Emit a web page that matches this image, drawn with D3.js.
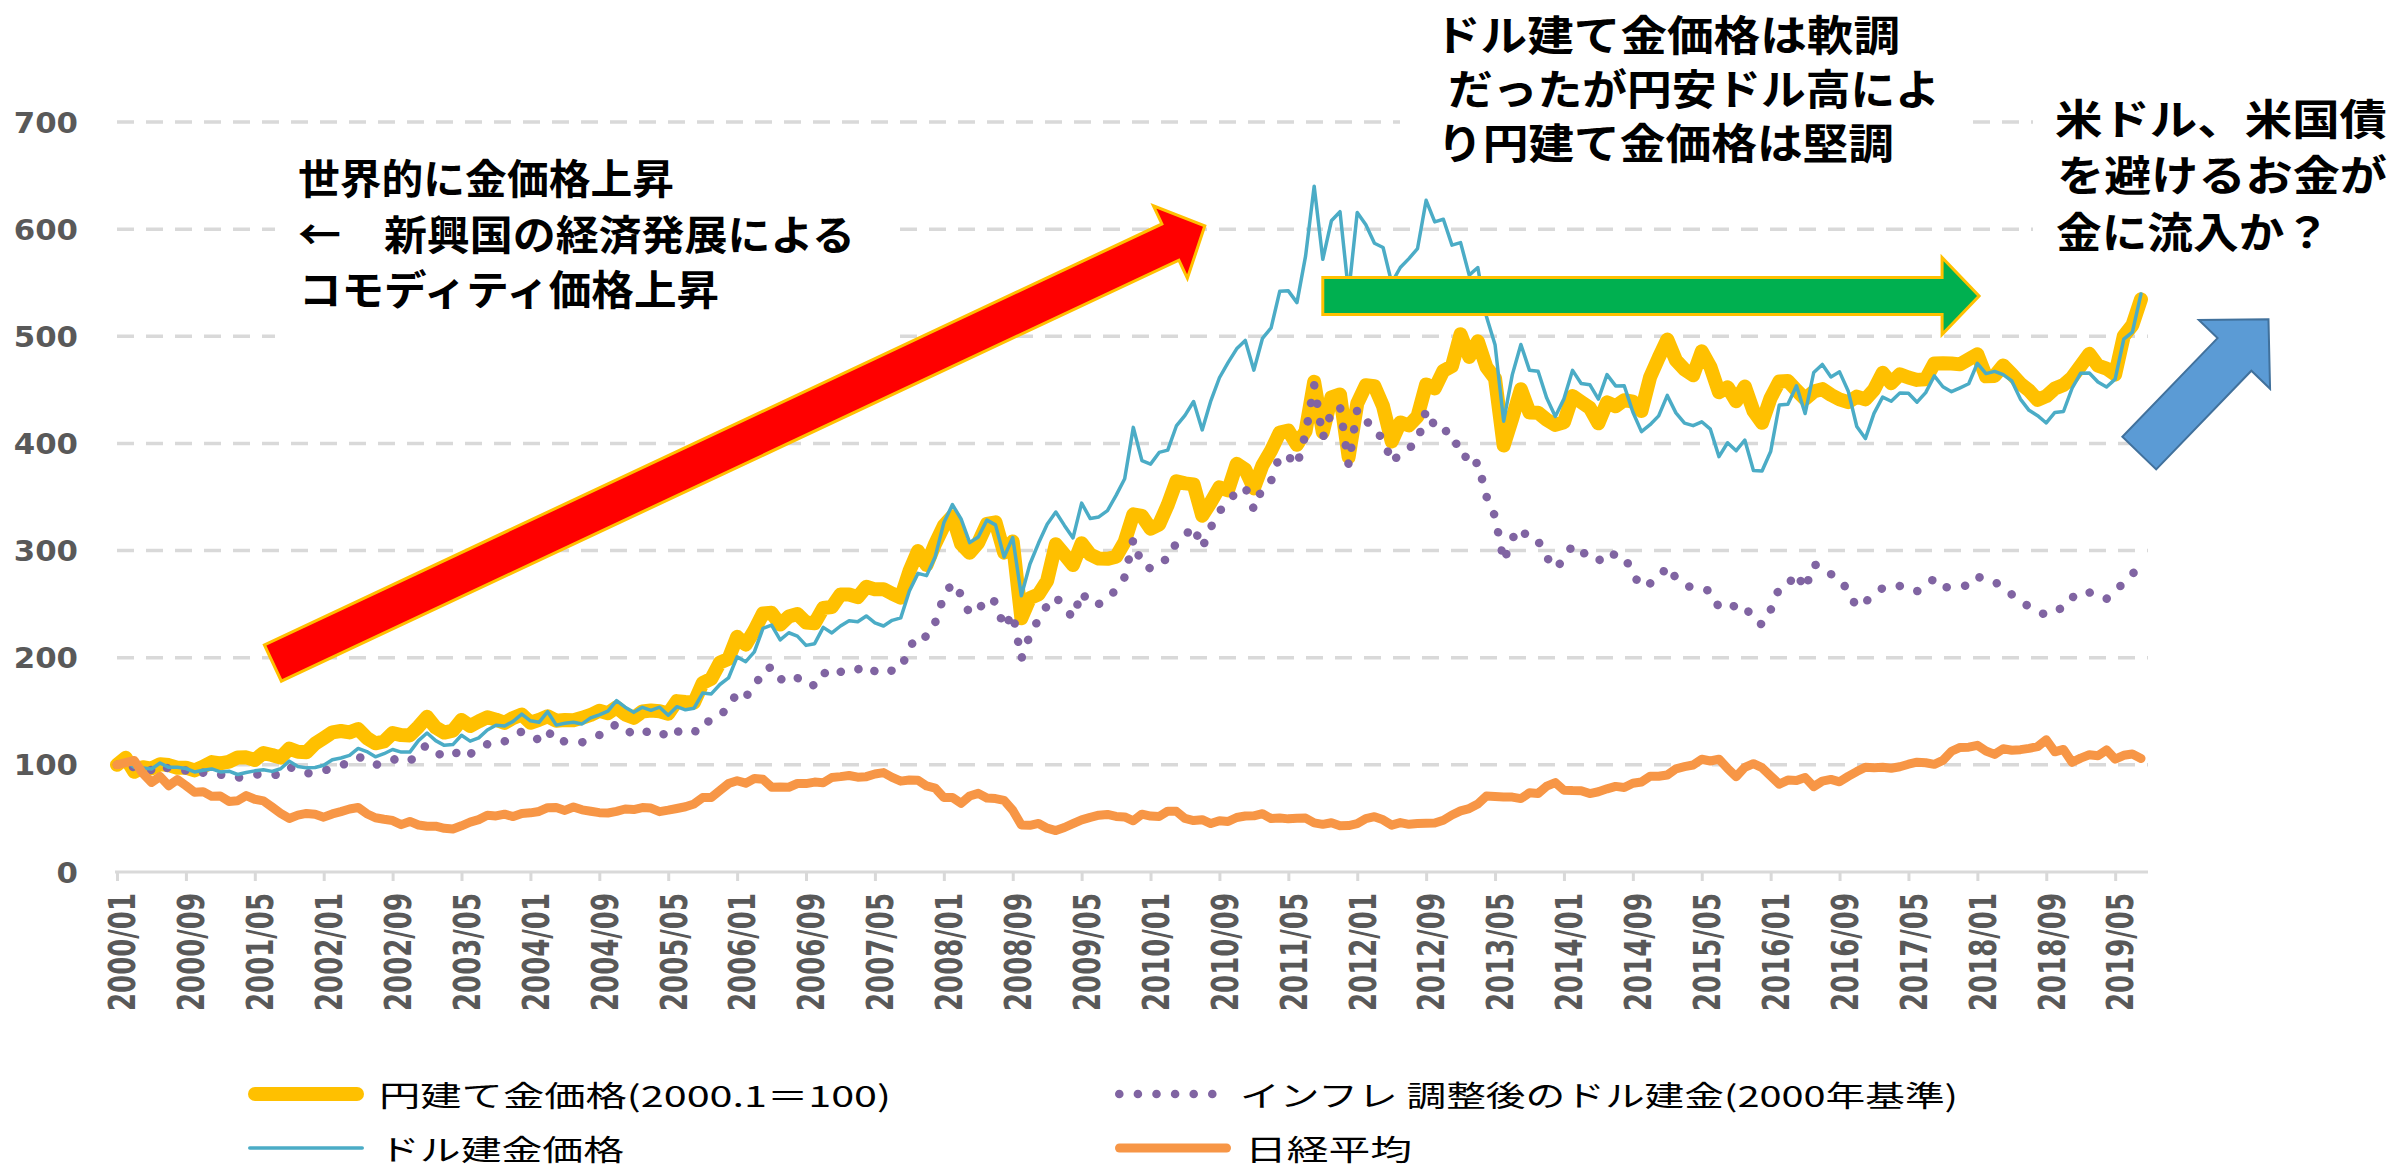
<!DOCTYPE html>
<html lang="ja">
<head>
<meta charset="utf-8">
<title>円建て金価格・ドル建金価格・日経平均</title>
<script src="https://cdn.jsdelivr.net/npm/d3@7"></script>
<style>
  body { margin: 0; background: #fff; }
  svg { display: block; }
  .tick-label { font-family: "DejaVu Sans", Verdana, sans-serif; font-weight: bold; fill: #595959; }
  .jp { font-family: "Noto Sans CJK JP", "Noto Sans", sans-serif; fill: #000; }
</style>
</head>
<body>
<div id="chart"></div>
<script>
// Monthly values, 2000/01 = 100 (2000/01 - 2019/08)

// 円建て金価格(2000.1＝100)
var yenGold = [
  100, 106.6, 93.5, 97.8, 96.5, 100.6, 99.8, 97.3, 97.4, 94.8, 98.3, 102.6,
  101.3, 102.9, 106.9, 107.0, 104.6, 111.0, 109.2, 106.7, 115.1, 112.2, 111.8, 119.8,
  125.0, 130.3, 131.6, 130.3, 133.4, 125.1, 120.1, 121.8, 129.6, 127.8, 127.5, 135.6,
  144.8, 134.8, 130.1, 131.9, 141.9, 136.3, 140.6, 144.5, 142.2, 139.2, 143.8, 147.0,
  139.3, 142.0, 145.3, 141.1, 141.8, 141.7, 143.9, 146.6, 150.5, 148.2, 153.7, 147.1,
  143.9, 149.8, 150.8, 150.1, 147.7, 159.5, 158.7, 158.2, 176.3, 180.3, 195.4, 199.0,
  219.5, 212.2, 225.5, 241.3, 241.9, 230.9, 238.5, 240.8, 232.8, 232.2, 246.4, 247.4,
  258.9, 259.0, 256.5, 266.2, 263.8, 264.0, 259.8, 256.0, 280.6, 299.5, 286.6, 306.4,
  323.2, 332.0, 306.2, 297.9, 307.4, 325.0, 326.4, 298.1, 308.4, 236.8, 255.6, 259.2,
  271.9, 305.9, 296.4, 286.5, 306.8, 296.4, 292.5, 292.3, 294.2, 308.3, 333.8, 332.4,
  320.4, 324.4, 342.7, 364.7, 362.7, 361.8, 332.6, 345.1, 359.0, 356.2, 380.9, 375.5,
  358.0, 379.7, 393.4, 410.2, 412.0, 398.7, 411.4, 457.5, 410.3, 443.0, 445.7, 387.3,
  437.2, 454.3, 453.4, 434.6, 401.8, 419.6, 416.7, 425.2, 455.1, 451.3, 467.8, 472.2,
  502.0, 480.8, 495.3, 471.2, 460.6, 398.0, 423.4, 450.6, 428.9, 428.6, 422.1, 417.3,
  419.8, 444.2, 438.6, 433.2, 418.8, 438.3, 434.7, 440.4, 439.0, 430.2, 461.8, 480.0,
  497.0, 477.6, 469.0, 463.6, 486.0, 471.5, 447.7, 452.5, 439.4, 453.2, 430.3, 419.2,
  442.5, 457.8, 458.2, 449.6, 441.5, 448.4, 450.7, 445.3, 441.1, 438.5, 443.7, 441.1,
  450.1, 465.9, 456.2, 464.5, 461.5, 459.3, 459.9, 474.7, 474.9, 474.6, 473.8, 478.6,
  483.2, 462.6, 463.0, 472.8, 464.7, 455.8, 449.4, 440.6, 444.1, 451.3, 454.6, 461.6,
  472.5, 483.6, 472.7, 469.9, 464.3, 500.2, 510.4, 534.5
];

// インフレ調整後のドル建金(2000年基準)
var inflAdjGold = [
  100, 103.4, 97.2, 96.4, 95.2, 100.5, 96.3, 96.1, 94.7, 91.4, 92.7, 93.6,
  90.7, 91.1, 87.9, 89.5, 90.8, 91.6, 89.8, 92.0, 98.5, 93.4, 92.1, 92.2,
  93.9, 98.5, 99.8, 101.8, 107.6, 104.6, 99.8, 102.3, 105.6, 103.2, 102.9, 112.5,
  118.7, 111.9, 107.6, 108.0, 115.6, 110.4, 112.9, 119.3, 122.9, 122.0, 125.5, 131.2,
  125.4, 123.8, 132.3, 120.9, 122.1, 122.6, 121.0, 125.6, 127.8, 130.5, 138.7, 133.0,
  128.5, 132.2, 129.5, 131.7, 125.0, 131.5, 128.7, 129.6, 141.2, 140.2, 147.3, 152.0,
  168.2, 164.0, 171.2, 189.0, 191.1, 179.2, 184.3, 181.2, 173.7, 174.5, 186.5, 181.8,
  186.7, 190.2, 189.0, 192.9, 187.3, 184.4, 188.2, 189.6, 209.1, 221.6, 219.4, 232.9,
  257.3, 270.0, 258.8, 240.9, 244.4, 256.1, 252.0, 228.1, 241.6, 199.1, 221.4, 235.9,
  248.8, 256.9, 246.7, 237.2, 261.3, 249.7, 250.2, 254.1, 264.1, 275.2, 310.3, 286.3,
  283.3, 290.7, 291.5, 307.5, 314.0, 322.7, 302.5, 321.7, 336.5, 346.0, 354.5, 359.3,
  338.4, 359.0, 365.1, 388.7, 388.0, 379.2, 409.2, 454.5, 405.0, 429.5, 434.4, 380.0,
  431.8, 422.6, 409.5, 405.8, 381.9, 390.9, 395.6, 401.1, 431.1, 416.2, 416.9, 399.4,
  400.0, 378.4, 382.3, 350.5, 331.9, 290.0, 311.3, 321.0, 310.0, 309.0, 293.8, 283.0,
  292.0, 305.0, 298.0, 296.5, 290.0, 299.0, 295.6, 295.0, 278.3, 265.8, 269.3, 273.9,
  285.5, 274.4, 267.6, 265.4, 265.0, 262.0, 247.0, 250.0, 247.4, 249.0, 234.7, 231.0,
  244.5, 265.0, 268.0, 279.0, 264.0, 287.0, 285.0, 278.0, 274.0, 262.0, 247.0, 252.0,
  259.0, 265.0, 264.5, 267.0, 266.0, 262.1, 266.7, 274.0, 266.0, 265.3, 266.8, 267.5,
  276.0, 272.0, 271.0, 265.0, 259.0, 252.0, 248.0, 243.0, 240.0, 245.0, 246.0, 256.0,
  262.0, 261.0, 256.0, 255.0, 262.0, 270.0, 278.0, 287.0
];

// ドル建金価格
var usdGold = [
  100, 103.7, 97.7, 97.1, 96.1, 101.7, 97.7, 97.8, 96.6, 93.4, 95.0, 96.2,
  93.4, 94.1, 91.0, 92.9, 94.4, 95.5, 93.9, 96.4, 103.5, 98.4, 97.2, 97.6,
  99.6, 104.8, 106.4, 108.8, 115.3, 112.4, 107.5, 110.4, 114.3, 111.9, 111.9, 122.6,
  129.7, 122.6, 118.2, 118.9, 127.6, 122.1, 125.2, 132.6, 137.0, 136.3, 140.6, 147.3,
  141.1, 139.7, 149.6, 137.1, 138.8, 139.7, 138.2, 143.8, 146.7, 150.2, 160.0, 153.8,
  149.0, 153.7, 150.9, 153.8, 146.3, 154.3, 151.4, 152.9, 167.0, 166.2, 175.0, 181.1,
  200.8, 196.3, 205.4, 227.3, 230.5, 216.6, 223.3, 220.1, 211.5, 213.1, 228.3, 223.1,
  229.6, 234.5, 233.6, 239.0, 232.6, 229.6, 234.9, 237.2, 262.3, 278.7, 276.6, 294.3,
  325.9, 342.9, 329.5, 307.4, 312.7, 328.4, 324.0, 294.0, 312.2, 257.9, 287.5, 307.0,
  324.6, 336.0, 323.5, 311.8, 344.3, 329.9, 331.4, 337.3, 351.5, 367.1, 415.0, 383.9,
  380.7, 391.6, 393.7, 416.3, 426.2, 439.1, 412.6, 439.8, 461.3, 475.4, 488.3, 496.1,
  468.4, 498.1, 507.9, 542.0, 542.4, 531.4, 574.8, 640.1, 571.8, 607.8, 616.3, 540.4,
  615.6, 604.0, 586.8, 582.9, 549.9, 564.2, 572.5, 581.9, 626.9, 606.8, 609.2, 585.1,
  587.4, 557.1, 564.2, 518.5, 492.2, 420.8, 464.0, 492.3, 468.2, 467.3, 442.3, 425.2,
  441.6, 468.2, 456.0, 454.8, 441.4, 464.2, 453.7, 453.9, 429.4, 411.0, 417.5, 425.7,
  444.8, 428.5, 419.0, 416.6, 420.2, 413.3, 387.7, 400.6, 393.2, 403.2, 374.8, 374.2,
  392.4, 435.9, 436.6, 453.8, 427.9, 466.2, 473.7, 462.1, 466.8, 449.0, 415.8, 404.5,
  428.1, 443.2, 439.4, 447.0, 446.9, 438.5, 447.4, 463.0, 452.9, 448.3, 451.9, 455.7,
  474.8, 465.2, 467.3, 464.2, 458.3, 441.4, 430.9, 425.9, 419.1, 428.9, 429.8, 451.5,
  465.6, 465.8, 457.3, 452.6, 460.0, 497.4, 503.9, 539.5
];

// 日経平均
var nikkei = [
  100, 102.1, 104.1, 92.0, 83.6, 89.1, 80.5, 86.3, 80.6, 74.4, 75.0, 70.6,
  70.9, 65.9, 66.5, 71.3, 67.9, 66.4, 60.7, 54.8, 50.0, 53.1, 54.7, 54.0,
  51.2, 54.2, 56.4, 58.8, 60.2, 54.4, 50.6, 49.2, 48.0, 44.2, 47.2, 43.9,
  42.7, 42.8, 40.8, 40.1, 43.1, 46.5, 48.9, 52.9, 52.3, 54.0, 51.7, 54.6,
  55.2, 56.5, 60.0, 60.2, 57.5, 60.7, 58.0, 56.7, 55.4, 55.1, 56.6, 58.8,
  58.3, 60.1, 59.7, 56.3, 57.7, 59.3, 60.9, 63.5, 69.5, 69.6, 76.1, 82.5,
  85.2, 82.9, 87.3, 86.5, 79.2, 79.4, 79.1, 82.6, 82.5, 83.9, 83.3, 88.2,
  89.0, 90.1, 88.5, 89.0, 91.5, 92.8, 88.3, 84.8, 85.9, 85.7, 80.3, 78.3,
  69.6, 69.6, 64.1, 70.9, 73.4, 69.0, 68.5, 66.9, 57.6, 43.9, 43.6, 45.3,
  40.9, 38.7, 41.5, 45.2, 48.7, 51.0, 53.0, 53.7, 51.9, 51.4, 47.8, 54.0,
  52.2, 51.8, 56.8, 56.6, 50.0, 48.0, 48.8, 45.2, 47.9, 47.1, 50.9, 52.3,
  52.4, 54.4, 49.9, 50.4, 49.6, 50.2, 50.3, 45.8, 44.5, 46.0, 43.2, 43.3,
  45.1, 49.8, 51.6, 48.7, 43.7, 46.1, 44.5, 45.2, 45.4, 45.7, 48.3, 53.2,
  57.0, 59.2, 63.4, 70.9, 70.5, 70.0, 69.9, 68.5, 74.0, 73.3, 80.2, 83.4,
  76.3, 76.0, 75.9, 73.2, 74.9, 77.6, 79.9, 78.9, 82.8, 84.0, 89.4, 89.3,
  90.5, 96.2, 98.3, 99.9, 105.2, 103.6, 105.3, 96.7, 89.0, 97.7, 101.1, 97.4,
  89.7, 82.0, 85.8, 85.3, 88.2, 79.7, 84.8, 86.4, 84.2, 89.2, 93.7, 97.8,
  97.4, 97.8, 96.8, 98.2, 100.6, 102.5, 102.0, 100.5, 104.2, 112.7, 116.3, 116.5,
  118.2, 112.9, 109.8, 115.0, 113.6, 114.2, 115.4, 117.0, 123.4, 112.2, 114.4, 102.4,
  106.3, 109.4, 108.5, 113.9, 105.4, 108.9, 110.1, 106.0
];

var yTicks = [0, 100, 200, 300, 400, 500, 600, 700];

var xTickLabels = [
  "2000/01", "2000/09", "2001/05", "2002/01", "2002/09", "2003/05", "2004/01", "2004/09",
  "2005/05", "2006/01", "2006/09", "2007/05", "2008/01", "2008/09", "2009/05", "2010/01",
  "2010/09", "2011/05", "2012/01", "2012/09", "2013/05", "2014/01", "2014/09", "2015/05",
  "2016/01", "2016/09", "2017/05", "2018/01", "2018/09", "2019/05"
];

var seriesNames = [
  "円建て金価格(2000.1＝100)",
  "インフレ 調整後のドル建金(2000年基準)",
  "ドル建金価格",
  "日経平均"
];

// category labels, one per month
var months = [];
for (var i = 0; i < yenGold.length; i++) {
  var yr = 2000 + Math.floor(i / 12), mo = i % 12 + 1;
  months.push(yr + "/" + (mo < 10 ? "0" : "") + mo);
}

var W = 2404, H = 1170;
var plot = {left: 117, right: 2141, top: 122, bottom: 872};

var svg = d3.select("#chart").append("svg")
  .attr("width", W)
  .attr("height", H)
  .attr("viewBox", "0 0 " + W + " " + H);

var x = d3.scaleLinear().domain([0, months.length - 1]).range([plot.left, plot.right]);
var y = d3.scaleLinear().domain([0, 700]).range([plot.bottom, plot.top]);

// dashed horizontal gridlines
svg.append("g")
  .selectAll("line")
  .data(yTicks.filter(function(d) { return d > 0; }))
  .enter().append("line")
    .attr("x1", plot.left)
    .attr("x2", plot.right + 7)
    .attr("y1", function(d) { return y(d); })
    .attr("y2", function(d) { return y(d); })
    .attr("stroke", "#d9d9d9")
    .attr("stroke-width", 3.5)
    .attr("stroke-dasharray", "17 12");

// white boxes behind the annotation texts (they hide gridlines)
var boxes = [
  {x: 275, y: 135, w: 620, h: 210},
  {x: 1400, y: 0, w: 568, h: 188},
  {x: 2033, y: 62, w: 371, h: 236}
];
svg.append("g")
  .selectAll("rect")
  .data(boxes)
  .enter().append("rect")
    .attr("x", function(d) { return d.x; })
    .attr("y", function(d) { return d.y; })
    .attr("width", function(d) { return d.w; })
    .attr("height", function(d) { return d.h; })
    .attr("fill", "#fff");

// y axis labels
var yAxis = svg.append("g")
  .attr("transform", "translate(78,0)")
  .call(d3.axisLeft(y).tickValues(yTicks).tickSize(0).tickPadding(0));
yAxis.select(".domain").remove();
yAxis.selectAll("text")
  .attr("class", "tick-label")
  .attr("x", 0)
  .attr("dy", "0.36em")
  .attr("text-anchor", "end")
  .attr("font-size", 28)
  .attr("transform", "scale(1.1,1)");

// x axis
var tickIdx = xTickLabels.map(function(l) { return months.indexOf(l); });
var xAxis = svg.append("g")
  .attr("transform", "translate(0," + plot.bottom + ")")
  .call(d3.axisBottom(x)
    .tickValues(tickIdx)
    .tickSize(9)
    .tickSizeOuter(0)
    .tickFormat(function(i) { return months[i]; }));
xAxis.select(".domain").remove();
xAxis.append("line")
  .attr("x1", plot.left - 2)
  .attr("x2", plot.right + 7)
  .attr("stroke", "#d9d9d9")
  .attr("stroke-width", 3);
xAxis.selectAll(".tick line")
  .attr("stroke", "#d9d9d9")
  .attr("stroke-width", 3);
xAxis.selectAll(".tick text")
  .attr("class", "tick-label")
  .attr("x", 0)
  .attr("y", 0)
  .attr("dy", null)
  .attr("font-size", 26)
  .attr("text-anchor", "end")
  .attr("dominant-baseline", "central")
  .attr("transform", "translate(5,21) scale(1.45,1) rotate(-90)");

// series lines
var line = d3.line()
  .x(function(d, i) { return x(i); })
  .y(function(d) { return y(d); });

var series = [
  {values: yenGold, color: "#FFC000", width: 14, dash: null},
  {values: inflAdjGold, color: "#8064A2", width: 8.5, dash: "0.1 18.5"},
  {values: usdGold, color: "#4BACC6", width: 3.5, dash: null},
  {values: nikkei, color: "#F79646", width: 9, dash: null}
];

svg.append("g")
  .selectAll("path")
  .data(series)
  .enter().append("path")
    .attr("d", function(d) { return line(d.values); })
    .attr("fill", "none")
    .attr("stroke", function(d) { return d.color; })
    .attr("stroke-width", function(d) { return d.width; })
    .attr("stroke-dasharray", function(d) { return d.dash; })
    .attr("stroke-linejoin", "round")
    .attr("stroke-linecap", "round");

// block arrows, anchored in data space (month index, value)
function arrowPoints(x0, y0, x1, y1, shaftW, headW, headL) {
  var dx = x1 - x0, dy = y1 - y0, len = Math.sqrt(dx * dx + dy * dy);
  var ux = dx / len, uy = dy / len, nx = -uy, ny = ux;
  var bx = x1 - ux * headL, by = y1 - uy * headL;
  var p = [
    [x0 + nx * shaftW / 2, y0 + ny * shaftW / 2],
    [bx + nx * shaftW / 2, by + ny * shaftW / 2],
    [bx + nx * headW / 2, by + ny * headW / 2],
    [x1, y1],
    [bx - nx * headW / 2, by - ny * headW / 2],
    [bx - nx * shaftW / 2, by - ny * shaftW / 2],
    [x0 - nx * shaftW / 2, y0 - ny * shaftW / 2]
  ];
  return p.map(function(q) { return q.join(","); }).join(" ");
}

var arrows = [
  {from: [18.1, 195], to: [126.3, 603], shaft: 40, head: 80, headLen: 38, fill: "#FF0000", stroke: "#FFC000", sw: 3},
  {from: [140.0, 537.6], to: [216.2, 537.6], shaft: 37, head: 77, headLen: 37, fill: "#00B050", stroke: "#FFC000", sw: 3},
  {from: [234.8, 391], to: [249.8, 516], shaft: 47, head: 99, headLen: 49, fill: "#5B9BD5", stroke: "#41719C", sw: 2}
];

svg.append("g")
  .selectAll("polygon")
  .data(arrows)
  .enter().append("polygon")
    .attr("points", function(d) {
      return arrowPoints(x(d.from[0]), y(d.from[1]), x(d.to[0]), y(d.to[1]), d.shaft, d.head, d.headLen);
    })
    .attr("fill", function(d) { return d.fill; })
    .attr("stroke", function(d) { return d.stroke; })
    .attr("stroke-width", function(d) { return d.sw; })
    .attr("stroke-linejoin", "miter");

// annotation texts
var notes = [
  {x: 298, y: 176, w: 376, size: 41, text: "世界的に金価格上昇"},
  {x: 298, y: 232, w: 557, size: 41, text: "←　新興国の経済発展による"},
  {x: 299, y: 287, w: 420, size: 41, text: "コモディティ価格上昇"},
  {x: 1434, y: 32, w: 466, size: 42, text: "ドル建て金価格は軟調"},
  {x: 1448, y: 86, w: 492, size: 42, text: "だったが円安ドル高によ"},
  {x: 1437, y: 140, w: 457, size: 42, text: "り円建て金価格は堅調"},
  {x: 2055, y: 116, w: 332, size: 42, text: "米ドル、米国債"},
  {x: 2057, y: 172, w: 330, size: 42, text: "を避けるお金が"},
  {x: 2056, y: 229, w: 274, size: 42, text: "金に流入か？"}
];

svg.append("g")
  .selectAll("text")
  .data(notes)
  .enter().append("text")
    .attr("class", "jp")
    .attr("x", function(d) { return d.x; })
    .attr("y", function(d) { return d.y; })
    .attr("font-size", function(d) { return d.size; })
    .attr("font-weight", "bold")
    .attr("dominant-baseline", "central")
    .attr("textLength", function(d) { return d.w; })
    .attr("lengthAdjust", "spacingAndGlyphs")
    .text(function(d) { return d.text; });

// legend
var legendItems = [
  {name: seriesNames[0], x: 248, y: 1094, tx: 379, tw: 512, s: series[0]},
  {name: seriesNames[1], x: 1115, y: 1094, tx: 1240, tw: 718, s: series[1]},
  {name: seriesNames[2], x: 248, y: 1148, tx: 379, tw: 245, s: series[2]},
  {name: seriesNames[3], x: 1115, y: 1148, tx: 1245, tw: 167, s: series[3]}
];

var legend = svg.append("g");
legend.selectAll("line")
  .data(legendItems)
  .enter().append("line")
    .attr("x1", function(d) { return d.x + d.s.width / 2; })
    .attr("x2", function(d) { return d.x + 116 - d.s.width / 2; })
    .attr("y1", function(d) { return d.y; })
    .attr("y2", function(d) { return d.y; })
    .attr("stroke", function(d) { return d.s.color; })
    .attr("stroke-width", function(d) { return d.s.width; })
    .attr("stroke-dasharray", function(d) { return d.s.dash; })
    .attr("stroke-linecap", "round");

legend.selectAll("text")
  .data(legendItems)
  .enter().append("text")
    .attr("class", "jp")
    .attr("x", function(d) { return d.tx; })
    .attr("y", function(d) { return d.y; })
    .attr("font-size", 29)
    .attr("dominant-baseline", "central")
    .attr("textLength", function(d) { return d.tw; })
    .attr("lengthAdjust", "spacingAndGlyphs")
    .text(function(d) { return d.name; });
</script>
</body>
</html>
